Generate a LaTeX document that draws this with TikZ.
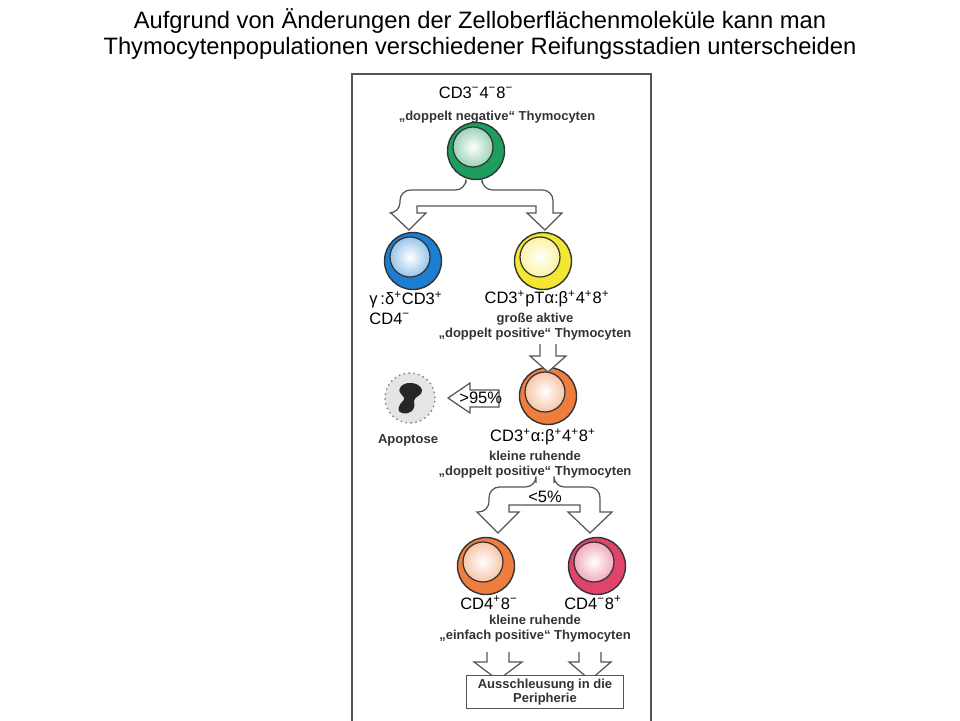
\documentclass[tikz,border=0pt]{standalone}
\usepackage{fontspec}
\setmainfont{Liberation Sans}
\definecolor{panelgray}{HTML}{555555}
\definecolor{txtgray}{HTML}{333333}
\definecolor{cellgreen}{HTML}{1E9E5E}
\definecolor{cellblue}{HTML}{1B7ED0}
\definecolor{cellyellow}{HTML}{F4E632}
\definecolor{cellorange}{HTML}{EE7D3E}
\definecolor{cellpink}{HTML}{E0436C}
\usetikzlibrary{calc}
\tikzset{
  blockarrow/.style={draw=panelgray, fill=white, line width=0.7pt, line join=miter},
  lbl/.style={font=\bfseries\fontsize{7.4}{8.6}\selectfont, text=txtgray, inner sep=0pt, align=center},
  marker/.style={font=\fontsize{9.4}{11}\selectfont, text=black, inner sep=0pt, align=center}
}
\newcommand{\up}[1]{\textsuperscript{#1}}
% a thymocyte: outer coloured ring and bright nucleus
\newcommand{\thymo}[3]{%
  \node[circle, draw=black!80, line width=0.8pt, fill=#2, minimum size=57*0.02cm, inner sep=0pt] (#3) at (#1) {};
  \shade[inner color=white, outer color=#2!45!white, draw=black!80, line width=0.7pt] ($(#3)+(-3,-4)$) circle (20);
}
\begin{document}
\begin{tikzpicture}[x=0.02cm, y=-0.02cm]
    \useasboundingbox (0,0) rectangle (960,720);
    % title
    \node[font=\fontsize{13.5}{15}\selectfont, align=center] (title) at (480,34)
      {Aufgrund von Änderungen der Zelloberflächenmoleküle kann man\\Thymocytenpopulationen verschiedener Reifungsstadien unterscheiden};
    % panel
    \draw[panelgray, line width=0.8pt] (352,730) -- (352,74) -- (651,74) -- (651,730);
    % cells
    \thymo{476,151}{cellgreen}{dn}
    \thymo{413,261}{cellblue}{gd}
    \thymo{543,261}{cellyellow}{dpb}
    \thymo{548,396}{cellorange}{dps}
    \thymo{486,566}{cellorange}{spf}
    \thymo{597,566}{cellpink}{spe}
    % apoptotic cell
    \node[circle, draw=gray, dotted, line width=0.8pt, fill=black!10, minimum size=50*0.02cm] (apo) at (410,398) {};
    \fill[black!85] (400,388) .. controls (404,380) and (420,382) .. (422,390)
      .. controls (423,396) and (414,396) .. (414,401)
      .. controls (416,410) and (410,415) .. (402,413)
      .. controls (396,412) and (398,405) .. (404,400)
      .. controls (406,396) and (397,394) .. (400,388) -- cycle;
    % split arrow below double negative cells
    \draw[blockarrow, rounded corners=6] (466,183) -- (466,190) -- (400,190) -- (400,213)
      [sharp corners] -- (391,213) -- (409,230) -- (426,213) -- (417,213) -- (417,206)
      -- (536,206) -- (536,213) -- (527,213) -- (545,230) -- (562,213) -- (553,213)
      [rounded corners=6] -- (553,190) -- (482,190) [sharp corners] -- (482,183);
    % down arrow
    \draw[blockarrow] (540,344) -- (540,356) -- (530,356) -- (548,372) -- (566,356) -- (556,356) -- (556,344);
    % arrow to apoptosis
    \draw[blockarrow] (499,390) -- (470,390) -- (470,383) -- (448,398) -- (470,413) -- (470,407) -- (499,407) -- cycle;
    \node[marker, anchor=west] (p95) at (459,398) {>95\%};
    % lower split arrow
    \draw[blockarrow, rounded corners=6] (536,483) -- (536,487) -- (489,487) -- (489,512)
      [sharp corners] -- (477,512) -- (498,533) -- (519,512) -- (509,512) -- (509,505)
      -- (580,505) -- (580,512) -- (568,512) -- (590,533) -- (612,512) -- (600,512)
      [rounded corners=6] -- (600,487) -- (554,487) [sharp corners] -- (554,483);
    \node[marker] (p5) at (545,497) {<5\%};
    % arrows to the periphery
    \draw[blockarrow] (487,652) -- (487,662) -- (474,662) -- (498,680) -- (522,662) -- (509,662) -- (509,652);
    \draw[blockarrow] (579,652) -- (579,662) -- (569,662) -- (590,680) -- (611,662) -- (601,662) -- (601,652);
    \node[draw=panelgray, fill=white, line width=0.8pt, minimum width=157*0.02cm, minimum height=33*0.02cm,
      lbl, font=\bfseries\fontsize{7.4}{8}\selectfont] (out) at (545,692) {Ausschleusung in die\\Peripherie};
    % labels
    \node[marker] (l1) at (476,93) {CD3\up{−}4\up{−}8\up{−}};
    \node[lbl] (l2) at (497,117) {„doppelt negative“ Thymocyten};
    \node[marker, align=left] (l3) at (406,308) {γ\,:δ\up{+}CD3\up{+}\\ CD4\up{−}};
    \node[marker] (l4) at (547,299) {CD3\up{+}pTα:β\up{+}4\up{+}8\up{+}};
    \node[lbl] (l5) at (535,327) {große aktive\\„doppelt positive“ Thymocyten};
    \node[marker] (l6) at (543,437) {CD3\up{+}α:β\up{+}4\up{+}8\up{+}};
    \node[lbl] (l7) at (535,465) {kleine ruhende\\„doppelt positive“ Thymocyten};
    \node[lbl] (l8) at (408,440) {Apoptose};
    \node[marker] (l9) at (489,603) {CD4\up{+}8\up{−}};
    \node[marker] (l10) at (593,603) {CD4\up{−}8\up{+}};
    \node[lbl] (l11) at (535,629) {kleine ruhende\\„einfach positive“ Thymocyten};
\end{tikzpicture}
\end{document}
